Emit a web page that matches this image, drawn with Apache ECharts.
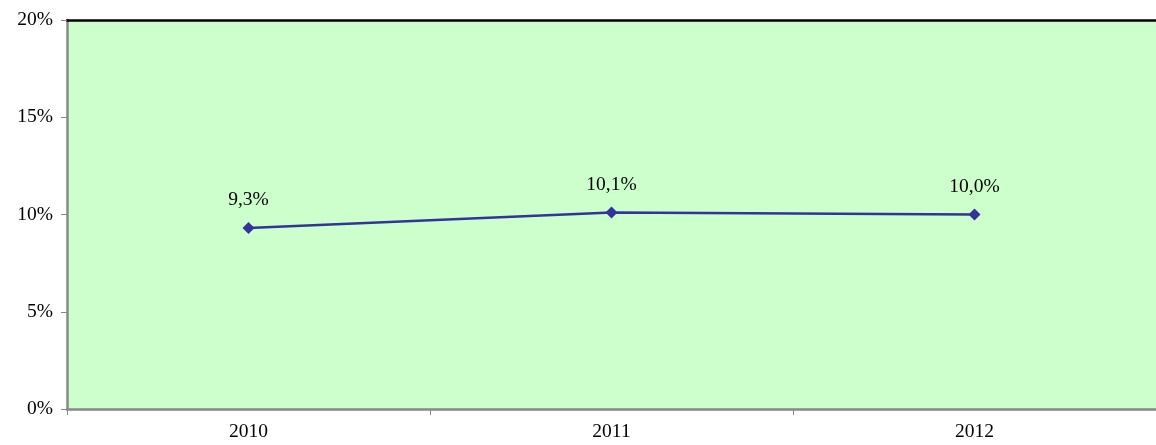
<!DOCTYPE html>
<html><head><meta charset="utf-8">
<script src="https://cdn.jsdelivr.net/npm/echarts@6/dist/echarts.min.js"></script>
<style>html,body{margin:0;padding:0;background:#fff}#c{width:1156px;height:445px}</style>
</head><body><div id="c"></div>
<script>
const categories = ['2010', '2011', '2012'];
const values = [9.3, 10.1, 10.0];
const yTicks = [0, 5, 10, 15, 20];

const font = '"Liberation Serif", "Times New Roman", serif';
const chart = echarts.init(document.getElementById('c'));
chart.setOption({
  animation: false,
  grid: { left: 67, right: -2, top: 20, bottom: 36, show: true, backgroundColor: '#CCFFCC', borderWidth: 0 },
  xAxis: [{
    type: 'category', data: categories, boundaryGap: true,
    axisLine: { lineStyle: { color: '#888888', width: 2.5 } },
    axisTick: { show: true, length: 6, lineStyle: { color: '#888888', width: 1 } },
    axisLabel: { color: '#000', fontFamily: font, fontSize: 19.5, margin: 13 },
    splitLine: { show: false }
  }, {
    type: 'category', data: categories, position: 'top',
    axisLine: { lineStyle: { color: '#000', width: 2.5 } },
    axisTick: { show: false }, axisLabel: { show: false }
  }],
  yAxis: {
    type: 'value', min: yTicks[0], max: yTicks[yTicks.length - 1], interval: 5,
    axisLine: { show: true, lineStyle: { color: '#888888', width: 2.5 } },
    axisTick: { show: true, length: 6, lineStyle: { color: '#888888', width: 1 } },
    axisLabel: { color: '#000', fontFamily: font, fontSize: 19.5, margin: 14, formatter: '{value}%' },
    splitLine: { show: false }
  },
  series: [{
    type: 'line', data: values,
    symbol: 'diamond', symbolSize: 12,
    lineStyle: { color: '#333399', width: 2.5 },
    itemStyle: { color: '#333399' },
    label: { show: true, position: 'top', distance: 12, color: '#000', fontFamily: font, fontSize: 19.5,
      formatter: p => p.value.toFixed(1).replace('.', ',') + '%' }
  }]
});
</script></body></html>
